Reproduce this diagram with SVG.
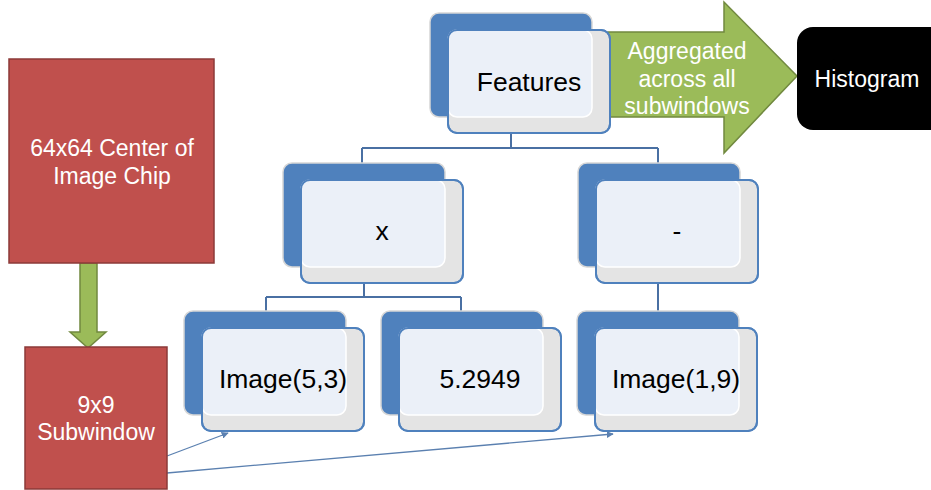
<svg xmlns="http://www.w3.org/2000/svg" width="931" height="490" viewBox="0 0 931 490">
<style>
.back{fill:#4F81BD;stroke:#D6D6D6;stroke-width:1.5}
.front{fill:#E4E4E4;stroke:#4F81BD;stroke-width:2}
.frontline{fill:none;stroke:#4F81BD;stroke-width:2}
.over{fill:#EBF0F8;stroke:#FFFFFF;stroke-width:1.5}
.lbl{font-family:"Liberation Sans",Arial,sans-serif;font-size:26.5px;fill:#000;text-anchor:middle}
.wt{font-family:"Liberation Sans",Arial,sans-serif;font-size:23px;fill:#fff;text-anchor:middle}
.conn{fill:none;stroke:#4A70A3;stroke-width:2}
.thin{fill:none;stroke:#5B80B0;stroke-width:1.3}
.red{fill:#C0504D;stroke:#8C3A38;stroke-width:1.5}
.green{fill:#9BBB59;stroke:#71893F;stroke-width:1.5}
</style>
<defs>
<g id="card">
<rect class="back" x="0" y="0" width="162" height="104" rx="9"/>
<rect class="front" x="18" y="17" width="162" height="103" rx="9"/>
<rect class="over" x="18" y="17" width="144" height="87" rx="9"/>
<rect class="frontline" x="18" y="17" width="162" height="103" rx="9"/>
</g>
<marker id="ah" viewBox="0 0 10 10" refX="9" refY="5" markerWidth="7" markerHeight="7" orient="auto" markerUnits="userSpaceOnUse">
<path d="M0,0 L10,5 L0,10 z" fill="#5B80B0"/>
</marker>
</defs>

<g id="arrow-aggregated">
<path class="green" d="M608,32 L724,32 L724,2 L797,76 L724,153 L724,117 L608,117 z"/>
<text class="wt" x="687" y="59">Aggregated</text>
<text class="wt" x="687" y="87">across all</text>
<text class="wt" x="687" y="114">subwindows</text>
</g>

<g id="histogram">
<rect x="797" y="27" width="160" height="103" rx="16" fill="#000"/>
<text class="wt" x="867" y="87">Histogram</text>
</g>

<g id="connectors">
<path class="conn" d="M511,133 V148 M362,148 H658 M362,148 V163 M658,148 V163"/>
<path class="conn" d="M364,282 V297 M266,297 H461 M266,297 V311 M461,297 V311"/>
<path class="conn" d="M658,282 V311"/>
<path class="thin" d="M167,456 L228,433" marker-end="url(#ah)"/>
<path class="thin" d="M167,473 L613,434" marker-end="url(#ah)"/>
<path class="green" d="M80,263 H97 V332 H106 L88,348 L70,332 H80 z"/>
</g>

<g id="features">
<use href="#card" x="430" y="13"/>
<text class="lbl" x="529" y="91">Features</text>
</g>
<g id="times">
<use href="#card" x="283" y="163"/>
<text class="lbl" x="382" y="240">x</text>
</g>
<g id="minus">
<use href="#card" x="578" y="163"/>
<text class="lbl" x="677" y="240">-</text>
</g>
<g id="image53">
<use href="#card" x="184" y="311"/>
<text class="lbl" x="283" y="388">Image(5,3)</text>
</g>
<g id="const">
<use href="#card" x="381" y="311"/>
<text class="lbl" x="480" y="388">5.2949</text>
</g>
<g id="image19">
<use href="#card" x="577" y="311"/>
<text class="lbl" x="676" y="388">Image(1,9)</text>
</g>

<g id="chip">
<rect class="red" x="9" y="59" width="205" height="204"/>
<text class="wt" x="112" y="156">64x64 Center of</text>
<text class="wt" x="112" y="184">Image Chip</text>
</g>
<g id="subwindow">
<rect class="red" x="25" y="347" width="142" height="142"/>
<text class="wt" x="96" y="413">9x9</text>
<text class="wt" x="96" y="440">Subwindow</text>
</g>
</svg>
